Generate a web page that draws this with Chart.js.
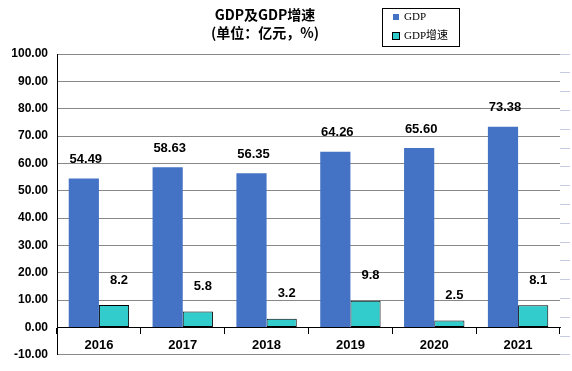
<!DOCTYPE html>
<html>
<head>
<meta charset="utf-8">
<script src="https://cdn.jsdelivr.net/npm/chart.js@4"></script>
<style>
    body { margin: 0; background: #fff; }
    #wrap { width: 572px; height: 371px; position: relative; }
</style>
</head>
<body>
<div id="wrap"><canvas id="gdpChart"></canvas></div>
<script>
// chart data
const years = ['2016', '2017', '2018', '2019', '2020', '2021'];
const gdpValues = [54.49, 58.63, 56.35, 64.26, 65.60, 73.38];
const growthValues = [8.2, 5.8, 3.2, 9.8, 2.5, 8.1];
const seriesNames = ['GDP', 'GDP增速'];
const titleLines = ['GDP及GDP增速', '(单位：亿元，%)'];

const BLUE = '#4472C4';
const TEAL = '#33CCCC';

// value labels above the bars
const valueLabels = {
    id: 'valueLabels',
    afterDatasetsDraw(chart) {
        const ctx = chart.ctx;
        ctx.save();
        ctx.font = 'bold 13px "Liberation Sans", Arial, sans-serif';
        ctx.fillStyle = '#000';
        ctx.textAlign = 'center';
        ctx.textBaseline = 'middle';
        chart.data.datasets.forEach((ds, i) => {
            const meta = chart.getDatasetMeta(i);
            meta.data.forEach((bar, j) => {
                const v = ds.data[j];
                const txt = i === 0 ? v.toFixed(2) : v.toFixed(1);
                const dx = i === 0 ? 2 : 5;
                const dy = i === 0 ? 19 : 25;
                ctx.fillText(txt, bar.x + dx, bar.y - dy);
            });
        });
        ctx.restore();
    }
};

// title + boxed legend, drawn by hand so they don't eat layout space
const header = {
    id: 'header',
    afterDraw(chart) {
        const ctx = chart.ctx;
        ctx.save();
        ctx.fillStyle = '#000';
        ctx.textAlign = 'center';
        ctx.textBaseline = 'middle';
        ctx.font = 'bold 14px "Noto Sans CJK SC", sans-serif';
        ctx.fillText(titleLines[0], 265, 15);
        ctx.fillText(titleLines[1], 265, 33);

        // legend box
        ctx.strokeStyle = '#000';
        ctx.lineWidth = 1;
        ctx.strokeRect(382.5, 8.5, 77, 38);
        ctx.textAlign = 'left';
        ctx.font = '11px "Liberation Serif", "Noto Sans CJK SC", serif';
        const colors = [BLUE, TEAL];
        chart.data.datasets.forEach((ds, i) => {
            const y = 17 + i * 19;
            ctx.fillStyle = colors[i];
            ctx.fillRect(393, y - 3, 6, 6);
            if (i === 1) {
                ctx.strokeStyle = '#000';
                ctx.strokeRect(392.5, y - 3.5, 7, 7);
            }
            ctx.fillStyle = '#000';
            ctx.fillText(ds.label, 404, y);
        });
        ctx.restore();
    }
};

new Chart(document.getElementById('gdpChart'), {
    type: 'bar',
    data: {
        labels: years,
        datasets: [{
            label: seriesNames[0],
            data: gdpValues,
            backgroundColor: BLUE,
            borderWidth: 0,
            categoryPercentage: 0.72,
            barPercentage: 1.0
        }, {
            label: seriesNames[1],
            data: growthValues,
            backgroundColor: TEAL,
            borderColor: '#000',
            borderWidth: 1,
            borderSkipped: false,
            categoryPercentage: 0.72,
            barPercentage: 1.0
        }]
    },
    options: {
        responsive: true,
        maintainAspectRatio: false,
        animation: false,
        devicePixelRatio: 1,
        layout: { padding: { top: 54, bottom: 14, left: 0, right: 0 } },
        plugins: {
            legend: { display: false },
            title: { display: false },
            tooltip: { enabled: false }
        },
        scales: {
            x: {
                position: { y: 0 },
                grid: {
                    offset: true,
                    drawOnChartArea: false,
                    tickLength: 6,
                    color: '#000'
                },
                border: { color: '#000', width: 1 },
                ticks: {
                    color: '#000',
                    padding: 4,
                    font: { family: '"Liberation Sans", Arial, sans-serif', size: 13, weight: 'bold' }
                }
            },
            y: {
                min: -10,
                max: 100,
                ticks: {
                    stepSize: 10,
                    color: '#000',
                    padding: 9,
                    font: { family: '"Liberation Sans", Arial, sans-serif', size: 12, weight: 'bold' },
                    callback: v => v.toFixed(2)
                },
                grid: { color: '#888', drawTicks: false },
                border: { color: '#000', width: 1 },
                afterFit(scale) { scale.width = 57; }
            },
            y2: {
                position: 'right',
                min: 0,
                max: 16,
                ticks: { display: false, stepSize: 1 },
                grid: { drawOnChartArea: false, tickLength: 10, color: '#c5cbe0' },
                border: { display: false },
                afterFit(scale) { scale.width = 12; }
            }
        }
    },
    plugins: [valueLabels, header]
});
</script>
</body>
</html>
